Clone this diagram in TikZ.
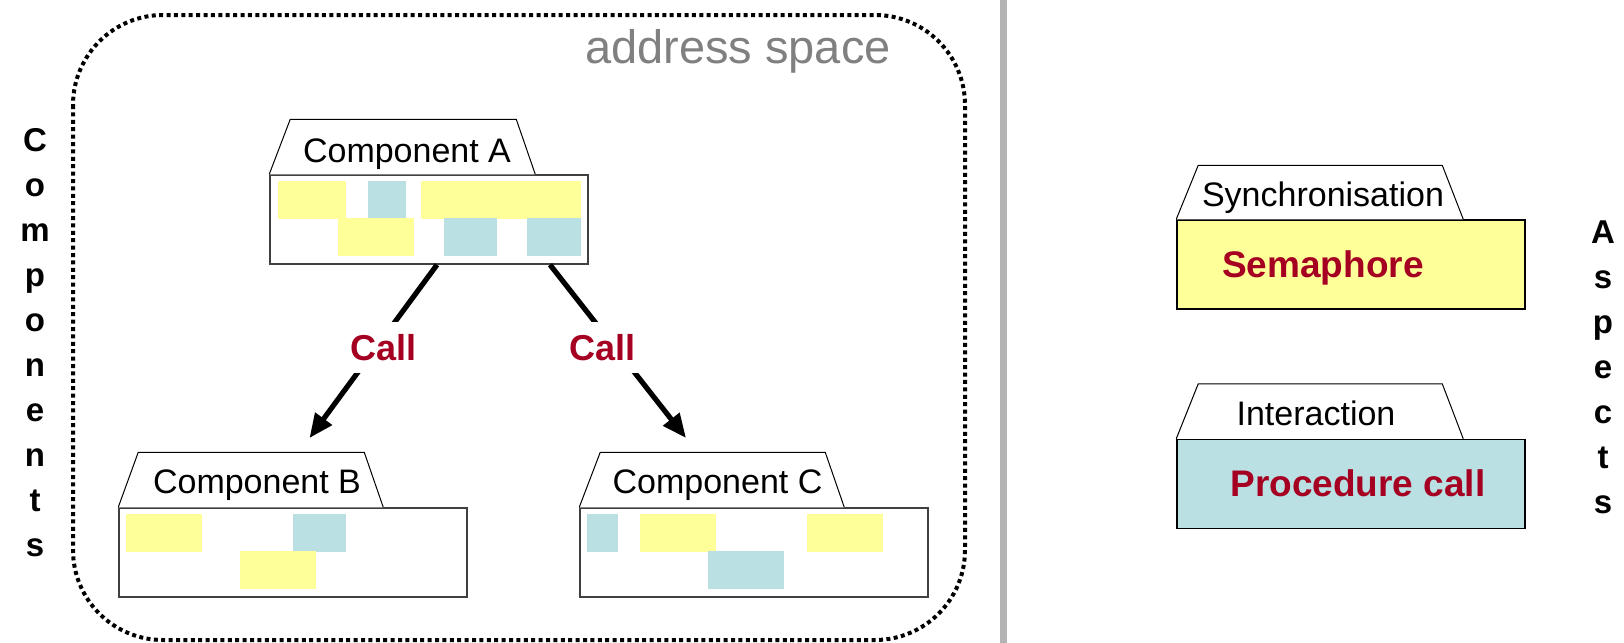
\documentclass[tikz,border=0pt]{standalone}
\usepackage{fontspec}
\setmainfont{Liberation Sans}
\usetikzlibrary{arrows.meta,calc}
\definecolor{csYellow}{HTML}{FFFF99}
\definecolor{csTeal}{HTML}{BBE0E3}
\definecolor{csRed}{HTML}{A50021}
\definecolor{csFrame}{HTML}{404040}
\definecolor{csGray}{HTML}{808080}
\definecolor{csRule}{HTML}{B3B3B3}
\tikzset{
 layout/.style={line join=miter,x=.5pt,y=-.5pt},
 compbody/.style={rectangle,draw=csFrame,fill=white,line width=.75pt,inner sep=0pt,minimum width=174pt,minimum height=44.5pt},
 comptab/.style={draw=black,fill=white,line width=.5pt},
 comptitle/.style={font=\fontsize{17}{20}\selectfont,anchor=base,inner sep=0pt},
 ylw/.style={fill=csYellow},
 cyn/.style={fill=csTeal},
 call/.style={draw=black,line width=2.6pt,-{Triangle[length=12pt,width=10pt]}},
 calllabel/.style={font=\fontsize{18}{20}\selectfont\bfseries,text=csRed,fill=white,inner xsep=2pt,inner ysep=6pt},
 aspectbody/.style={compbody,draw=black},
 aspectname/.style={font=\fontsize{18.5}{22}\selectfont\bfseries,text=csRed,anchor=base,inner sep=0pt},
 sidetitle/.style={font=\fontsize{16.5}{22.5}\selectfont\bfseries,align=center,anchor=base,inner sep=0pt},
 addrbox/.style={draw=black,line width=2pt,dash pattern=on 2pt off 1.7pt,rounded corners=45pt},
 addrname/.style={font=\fontsize{23.5}{26}\selectfont,text=csGray,anchor=base,inner sep=0pt},
 sepline/.style={draw=csRule,line width=3.5pt}
}

\begin{document}
\begin{tikzpicture}[layout]
 \useasboundingbox (0,0) rectangle (1624,643);
 % address space of the components
 \draw[addrbox] (73,15) rectangle (965,640);
 \node[addrname] (addr) at (738,63) {address space};
 \draw[sepline] (1003,0) -- (1003,643);
 % side titles, placed by the baseline of their last letter
 \node[sidetitle] (compword) at (35,556) {C\\o\\m\\p\\o\\n\\e\\n\\t\\s};
 \node[sidetitle] (aspword) at (1603,513) {A\\s\\p\\e\\c\\t\\s};

 % component A
 \node[compbody,minimum width=159pt] (compA) at (429,219.5) {};
 \fill[ylw] (278,181) rectangle (346,219);
 \fill[cyn] (368,181) rectangle (406,219);
 \fill[ylw] (421,181) rectangle (581,219);
 \fill[ylw] (338,218) rectangle (414,256);
 \fill[cyn] (444,218) rectangle (497,256);
 \fill[cyn] (527,218) rectangle (581,256);
 \draw[comptab] (compA.north west) -- ++(21,-55) -- ++(226,0) -- ++(19,55);
 \node[comptitle] (titleA) at (407,162) {Component A};

 % component B
 \node[compbody] (compB) at (293,552.5) {};
 \fill[ylw] (126,514) rectangle (202,552);
 \fill[cyn] (293,514) rectangle (346,552);
 \fill[ylw] (240,551) rectangle (316,589);
 \draw[comptab] (compB.north west) -- ++(20,-55) -- ++(226,0) -- ++(19,55);
 \node[comptitle] (titleB) at (257,493) {Component B};

 % component C
 \node[compbody] (compC) at (754,552.5) {};
 \fill[cyn] (587,514) rectangle (618,552);
 \fill[ylw] (640,514) rectangle (716,552);
 \fill[ylw] (807,514) rectangle (883,552);
 \fill[cyn] (708,551) rectangle (784,589);
 \draw[comptab] (compC.north west) -- ++(21,-55) -- ++(225,0) -- ++(19,55);
 \node[comptitle] (titleC) at (717.5,493) {Component C};

 % calls
 \coordinate (tipB) at (309.5,438);
 \coordinate (tipC) at (686,438);
 \draw[call] ($(compA.south)+(8,0)$) -- node[calllabel,xshift=5.25pt,yshift=2pt] (callB) {Call} (tipB);
 \draw[call] ($(compA.south)+(121,0)$) -- node[calllabel,xshift=-7.75pt,yshift=2pt] (callC) {Call} (tipC);

 % aspects
 \node[aspectbody,fill=csYellow] (sync) at (1351,264.5) {};
 \draw[comptab] (sync.north west) -- ++(22,-54) -- ++(244,0) -- ++(21,54);
 \node[comptitle] (syncTitle) at (1323,206) {Synchronisation};
 \node[aspectname] (sema) at (1323,277) {Semaphore};
 \node[aspectbody,fill=csTeal] (inter) at (1351,484) {};
 \draw[comptab] (inter.north west) -- ++(22,-55) -- ++(244,0) -- ++(21,55);
 \node[comptitle] (interTitle) at (1316,425) {Interaction};
 \node[aspectname] (proc) at (1358,496) {Procedure call};
\end{tikzpicture}
\end{document}
